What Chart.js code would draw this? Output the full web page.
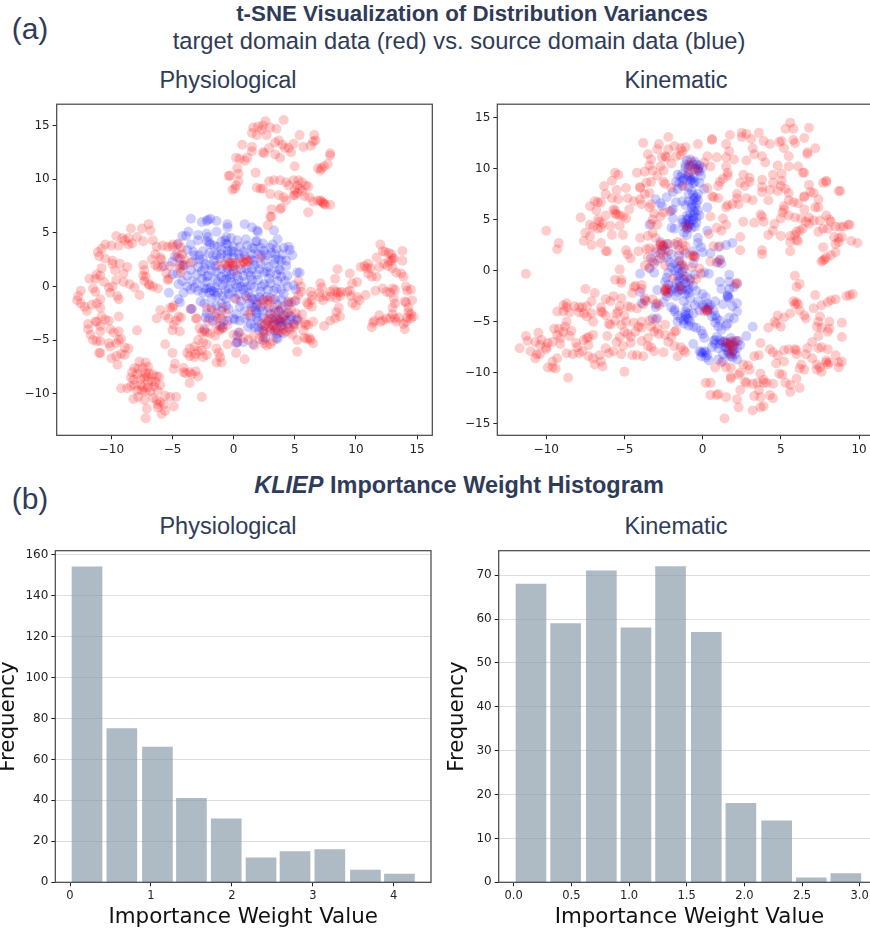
<!DOCTYPE html>
<html>
<head>
<meta charset="utf-8">
<title>t-SNE and KLIEP</title>
<script src="https://cdn.jsdelivr.net/npm/chart.js@4"></script>
<style>
html, body { margin: 0; padding: 0; background: #fff; overflow: hidden; width: 870px; height: 933px; }
.txt { position: absolute; font-family: "Liberation Sans", sans-serif; color: #2f3b58; white-space: nowrap; line-height: 1; transform: translate(-50%, -50%); }
.box { position: absolute; }
</style>
</head>
<body>
<div class="txt" style="left:30px;top:29px;font-size:30px">(a)</div>
<div class="txt" style="left:472px;top:14px;font-size:22.3px;font-weight:bold">t-SNE Visualization of Distribution Variances</div>
<div class="txt" style="left:459px;top:41.5px;font-size:23.7px">target domain data (red) vs. source domain data (blue)</div>
<div class="txt" style="left:228px;top:81px;font-size:23.5px">Physiological</div>
<div class="txt" style="left:676px;top:81px;font-size:23.5px">Kinematic</div>
<div class="txt" style="left:30px;top:499px;font-size:30px">(b)</div>
<div class="txt" style="left:459px;top:486px;font-size:23.5px;font-weight:bold"><i>KLIEP</i> Importance Weight Histogram</div>
<div class="txt" style="left:228px;top:527px;font-size:23.5px">Physiological</div>
<div class="txt" style="left:676px;top:527px;font-size:23.5px">Kinematic</div>

<div class="box" style="left:0;top:94px;width:440px;height:370px"><canvas id="tsnePhys"></canvas></div>
<div class="box" style="left:440px;top:94px;width:450px;height:370px"><canvas id="tsneKin"></canvas></div>
<div class="box" style="left:-8px;top:540px;width:448px;height:393px"><canvas id="histPhys"></canvas></div>
<div class="box" style="left:440px;top:540px;width:450px;height:393px"><canvas id="histKin"></canvas></div>

<script>
var physTarget = [
[2.6,15.4],[4.1,15.5],[2.4,15],[2,14.9],[1.6,14.8],[1.5,14.3],[2.3,14.6],[3,14.8],[3.5,14.7],[2.7,14.1],[1.9,14.1],[0.7,13.2],[1.5,13],[1.5,12.6],[2.4,12.5],[2.9,12.9],[3.4,13.4],[3.7,13.6],[4,13.2],[4.2,12.9],[4.5,12.9],[4.9,13.3],[5.4,14.1],[5.7,13],[6.3,13.1],[6.5,13.5],[6.6,14.1],[6.7,13.6],[4.7,12.5],[3.4,12.3],[3.8,12],[2.5,12.4],[1.1,12],[0.9,11.7],[0.5,11.9],[0.2,12],[0.3,11],[0.4,10.5],[-0.4,10.3],[-0.3,10.3],[0.4,9.8],[0.2,9.4],[-0.1,9],[0.1,9.1],[1.8,10.6],[5,11.2],[7.9,12.4],[7.9,12.2],[7.7,11.4],[7.4,11.2],[7.2,11],[7.1,10.8],[6.9,11],[1.9,9.2],[2.2,9.1],[2.4,9.1],[2.9,9.8],[3.3,9.9],[3.8,9.9],[4.3,9.7],[4.5,9.4],[4.9,9.9],[5.3,9.9],[5.6,9.7],[5.9,9.4],[6.1,9.3],[5.2,9.4],[5.4,9.1],[5.2,8.7],[4.9,8.5],[5.6,8.9],[5,9],[6.5,7.9],
[6.2,8.3],[6.9,8],[7.1,8],[7.2,7.9],[7.4,7.7],[7.5,7.6],[7.3,7.8],[7.9,7.6],[5.8,8.4],[6.1,6.9],[3.1,7.2],[3.9,7.3],[3.8,7.2],[3,8.6],[3.7,8.5],[4.1,8.3],[4.3,8],[5,8.5],[3,6.5],[3.1,6.5],[2.8,5.7],
[-8.4,5.4],[-7.5,5.4],[-6.95,5.8],[-6.8,5.2],[-9.6,4.7],[-9.1,4.5],[-8.9,4.3],[-8.6,4.5],[-7.9,4.6],[-8.3,4],[-8.6,3.9],[-7.4,4.2],[-6.6,4.3],[-6.3,3.7],[-9.4,3.8],[-10,3.8],[-10.5,3.9],[-10.8,3.5],[-11.1,3.2],[-11,2.8],[-10.5,2.6],[-9.9,2.4],[-9.9,2.1],[-9.3,2.1],[-9.7,1.5],[-9,1.2],[-8.7,1.8],[-10.8,1.7],[-11.2,1.1],[-11.8,0.7],[-11.3,0.7],[-10.9,1],[-10.6,0.4],[-10.2,-0.1],[-10.1,-0.6],[-9.9,0],[-9.6,0.6],[-9,0.4],[-8.5,0.2],[-8.1,-0.1],[-7.7,-0.8],[-11.5,-0.2],[-11.3,-0.5],[-12.5,-0.4],[-12.7,-0.9],[-12.8,-1.3],[-12.5,-1.6],[-12.2,-1.9],[-12,-2.3],[-11.6,-1.7],[-11.2,-1.6],[-10.9,-1.2],[-10.9,-2],[-9.4,-1.2],[-9.5,-0.9],
[-11.2,-3.3],[-11.3,-3.3],[-11.9,-3.5],[-11.9,-4],[-10.8,-2.8],[-10.5,-3.1],[-10.2,-3.2],[-9.4,-2.8],[-10.9,-3.7],[-10.9,-4.2],[-10.1,-4],[-9.8,-4.3],[-9.4,-4.2],[-11.7,-4.5],[-11.5,-5],[-11.2,-5.1],[-10.9,-5.1],[-10.2,-5.3],[-10.1,-5.6],[-9.4,-5],[-9.2,-4.9],[-9.6,-5.3],[-8.9,-5.7],[-8.6,-5.8],[-11,-6.2],[-9.2,-6.3],[-8.9,-6.4],[-10.9,-6.2],[-10,-6.7],[-9.6,-6.5],[-9.5,-7.3],[-7.9,-4.1],
[-7.7,-7],[-7.2,-7.1],[-7,-7.5],[-7.4,-7.6],[-7.8,-7.7],[-8.1,-7.6],[-8.3,-8],[-7.9,-8.2],[-7.2,-8.1],[-6.9,-8.1],[-7.1,-8.4],[-7.3,-8.5],[-6.6,-8.2],[-8.4,-8.5],[-8.2,-8.7],[-7.6,-8.6],[-7,-8.9],[-6.7,-8.9],[-6.3,-8.4],[-6.1,-8.4],[-6.4,-8.9],[-8.1,-9.2],[-7.6,-9.2],[-7.4,-9.4],[-7,-9.4],[-6.5,-9.3],[-6,-9.2],[-7.9,-9.7],[-7.5,-9.7],[-7.2,-9.8],[-6.8,-9.8],[-6.2,-9.7],[-9.2,-9.5],[-8.7,-9.5],[-8.4,-9.3],[-8.2,-10.5],[-7.8,-10.3],[-7.3,-10.6],[-6.6,-10.4],[-6.3,-10.6],[-6,-10.8],[-6.2,-11],[-5.7,-11],[-5.6,-10.2],[-5.2,-10.3],[-4.7,-10.3],[-4.9,-11.2],[-5.6,-11.6],[-5.9,-11.9],[-6.2,-11.3],[-7.1,-11.4],[-7.2,-12.3],[-2.6,-10.3],
[-7.4,2],[-7.3,1.5],[-7.4,1],[-7.2,0.9],[-7.3,0.5],[-6.7,2.5],[-6.4,2],[-6.2,1.8],[-6,2.7],[-5.9,2.5],[-6.4,3],[-6.9,0.2],[-6.6,0],[-6.2,-0.2],[-6.9,0.1],[-5.5,1.2],[-5.3,0.7],[-5.4,0.6],[-5.9,1.8],[-5.2,1.9],[-5.8,3.8],[-5.4,3.7],[-5,3.9],[-5,3.7],[-4.5,4],[-4.3,3.6],[-4.2,3],[-4.6,3.1],[-4.6,2.7],[-4,2.5],[-4.4,2],[-4.4,1.7],[-4.3,1.3],[-4,2],[-3.5,2.2],
[-5.2,-2],[-4.9,-1.8],[-5,-2],[-6,-2.2],[-6.3,-3],[-5.6,-2.7],[-5.3,-3],[-4.9,-3.6],[-4.5,-2.8],[-4.3,-2.9],[-4.7,-3.2],[-4.4,-4.2],[-5,-4.1],[-5.6,-5.4],[-5,-6.2],[-3.5,-2.1],[-3.1,-3],[-3,-3],[-2.2,-2],[-1.8,-2.2],[-1.4,-2.5],[-1.3,-3],[-1,-3],[-0.9,-2],[-0.6,-2.5],[-2.1,-3.3],[-1.4,-3.7],[-1,-4],[-0.9,-3.9],[-0.5,-3.6],
[-2.8,-3.9],[-2.6,-4.3],[-2.4,-4.2],[-2.2,-4.3],[-1.9,-4.4],[-1.5,-4.6],[-1.2,-4.1],[-2.9,-5],[-2.5,-5.2],[-2.2,-5.4],[-3.2,-5.6],[-3.6,-5.8],[-3.8,-6.2],[-3.6,-6.5],[-3.1,-6.3],[-2.9,-6],[-2.6,-6],[-2.5,-6.6],[-2.2,-6.4],[-3.2,-6.6],[-1.4,-5.8],[-1.2,-6.2],[-1.1,-6.6],[-1.4,-7.1],[-1,-7.1],[-4.1,-7.6],[-3.9,-8.1],[-3.6,-8],[-3.4,-8.2],[-3.1,-7.9],[-2.9,-8.4],[-3.6,-9],[-4.9,-7.7],[-4.8,-7.2],[-4.1,-8],
[-1.2,2],[-0.7,2.1],[-0.4,2.1],[-0.3,2.2],[-0.1,2.2],[-0.5,1.9],[-0.1,1.9],[0.2,2.2],[0.8,2.3],[1,2.5],[1.1,2.3],[1.2,2.4],[0.9,2.2],[0.6,2.1],[2.2,2.7],[0.2,1.5],
[0,-4.5],[0.5,-4.3],[0.8,-4.8],[0.3,-5.2],[-0.5,-5.4],[0.2,-6.2],[0.9,-6.8],[1.2,-5],[1.6,-4.6],[1.7,-5.5],[2.1,-4.9],[2.4,-4.7],[2.5,-5.3],[2.7,-5.5],[3,-5.4],[3.2,-5.1],[3.9,-4.3],[3.6,-3],[3.4,-2.9],[2.9,-3],[2.7,-3.1],[2.6,-3.5],[2.8,-3.8],[3,-4],[3.3,-3.6],[3.5,-3.9],[3.8,-3.4],[4,-3],[4.2,-2.8],[4.4,-3.5],[4.6,-4],[4.9,-3.8],[5,-3.6],[2.5,-4.2],[2.4,-4.4],[2.3,-3.5],[3.1,-3.5],[3.3,-4.2],[3.7,-4.1],[4.1,-4],[4.3,-4.2],[4.5,-2.5],[4.7,-2.2],[5.1,-2.5],[5.3,-3.2],[5.6,-2.6],[5.8,-3.4],[5.7,-4.1],[5.9,-3.6],[6.1,-3.6],[6.5,-3.3],[5.8,-4.8],[6,-4.9],[6.3,-5],[6.5,-5.3],[6.2,-4.8],[5.2,-5],[5.2,-6.1],[4.8,-4.5],[2,-1.5],[2.5,-1.2],[2.8,-1.3],[3.2,-1.2],[2.4,-1.8],[2.8,-1.6],[3.3,-2],[1.2,-2.7],[1.4,-2.3],[0.2,-1.2],[1.1,-1.1],[3,-2.6],[3.7,-2.3],[4,-1.9],[4.5,-1.4],[4.7,-1.5],[5.1,-1.3],[5.3,-0.8],
[5.3,0.5],[5.5,0],[5.5,-0.5],[6.3,-0.5],[6.4,-0.9],[6,-1.5],[6.1,-1.7],[6.4,-1.9],[6.4,-1.3],[7.1,0.3],[7.2,-0.1],[7,-0.6],[7.1,-1],[7.3,-1.3],[7.6,-0.9],[7.9,-1],[7.9,-0.5],[8.2,-0.3],[8.4,-0.5],[8.6,-0.6],[8.8,-0.5],[8.7,-0.9],[8.4,-1.1],[8.6,-2],[8.4,-2.4],[8.7,-2.8],[8.3,-3],[7.9,-3.2],[7.4,-3.7],[8.5,1.6],[8.3,0.7],[9.3,-0.5],[9.5,-0.4],[9.6,-0.9],[9.7,-1.6],[10,-1.8],[10.1,-1],[10.3,-1.3],[10.8,-0.8],[9.5,1.2],[9.7,0.3],[10.1,0.4],[10.4,1.8],[10.7,1.9],[11,2.1],[11.2,1.7],[11,1.2],[11.3,0.9],[10.9,1.7],[11.7,2.7],[11.9,1.8],[11.7,0.9],[11.6,-0.4],[12,3.9],[12.2,3.3],[12.4,3.2],[12.7,3.1],[12.9,3],[13,2.6],[12.9,2.4],[12.7,2.3],[13.1,2.6],[13.8,3.3],[13.8,2.4],[12.3,2.1],[12.6,1.9],[13,1.7],[13.3,1.3],[13.7,1.2],[13.9,0.9],[14.1,0],[14.5,-0.3],[14.2,-0.4],[13.2,-0.3],[13,-0.2],[12.5,-0.5],[12.2,-0.2],[12.8,-0.6],[13.1,-1.1],[13.2,-1.6],[13,-2],[13,-2.6],[12.8,-3],[13.2,-3],[12.5,-3],[12.2,-3.2],[13.5,-2.9],[14,-1.4],[14.1,-1.5],[14.3,-2],[14.6,-1.3],[14.3,-2.4],[14.5,-2.6],[14.2,-2.9],[14.5,-3],[14.7,-2.8],[14.1,-3.3],[13.9,-3.5],[14,-4],[13.3,-3.3],[11.9,-2.7],[11.5,-3.2],[11.4,-3.4],[11.3,-3.8],[12,-3.3]
];
var physSource = [
[-3.5,6.3],[-2.6,6],[-2.1,6.2],[-1.9,6.3],[-2.2,6.1],[-1.4,6.1],[-0.5,5.8],[-0.5,5.5],[0.9,5.8],[1.5,5.5],[1.9,5.2],[2,5.1],[3.3,5.2],[-3.7,5.1],[-4.2,4.7],[-3.9,4.7],[-2.9,4.8],[-2.2,4.9],[-2.1,4.6],[-1.4,5.1],[-0.6,4.6],[-0.2,4.5],[0.3,4.3],[1,4.4],[1.8,4.2],[1.9,4.2],[3.6,4.4],[2.4,4],
[-4.6,3.9],[-3.5,3.9],[-2.9,4.3],[-2.2,4.2],[-1.9,3.9],[-1.6,3.8],[-1.3,3.7],[-0.6,4],[-0.5,3.9],[0,3.7],[0.5,3.7],[1.1,3.8],[1.7,3.5],[2.2,3.6],[3.2,3.9],[3.5,3.5],[4.1,3.6],[4.5,3.7],[4.6,3.4],
[-4.8,2.8],[-4.4,2.6],[-3.8,3.4],[-3.3,3.2],[-2.8,2.9],[-2.5,3.3],[-2,3.1],[-1.4,2.9],[-1,3],[-0.5,3],[-0.2,3.3],[0.4,3],[0.8,3.2],[1.5,3],[2,3],[2.7,2.9],[3.1,3.1],[3.4,3],[4,3],[4.8,2.9],
[-5,2.3],[-4.2,2],[-4.1,1.9],[-3.3,2.3],[-2.8,2.5],[-2.3,2.1],[-1.9,2],[-1.6,2.4],[-1.1,2.6],[-0.5,2.6],[0,2.7],[0.5,2.6],[1.4,2.5],[1.7,2],[2.2,2.1],[2.6,2.4],[3.3,2.1],[3.7,2.5],[3.9,2.4],[4.3,1.9],
[-5.7,1.9],[-5,1.1],[-4.6,1.2],[-3.8,1],[-3.5,1.5],[-3,1.1],[-2.6,1.4],[-2.1,1],[-1.8,1.5],[-1.4,1.3],[-1,0.9],[-0.6,0.7],[-0.3,0.8],[0,1.4],[0.6,1.6],[1.2,1.3],[1.4,1],[1.9,1.1],[2.5,1.3],[2.7,1.4],[3,1.2],[3.7,1.6],[3.8,1.5],[4.4,1],[5.2,1.3],[5.4,1.3],
[-4.5,0.2],[-4.2,0.5],[-3.4,0.5],[-3,0.3],[-2.6,0.7],[-2.2,0.4],[-1.9,-0.1],[-1.3,0.4],[-0.8,0.6],[-0.2,0.4],[0.4,0.6],[0.9,0.4],[1.5,0.6],[2,0.6],[2.5,0.2],[3,0.3],[3.6,0.5],[4.2,0.5],[4.9,0.1],
[-5.3,-0.6],[-4.1,-0.6],[-3.5,-0.3],[-2.9,-0.4],[-2.4,-0.2],[-2.2,-0.2],[-1.6,-0.5],[-1.3,-0.6],[-0.7,-0.3],[-0.1,-0.5],[0.3,-0.1],[0.8,-0.3],[1.2,-0.6],[1.7,-0.1],[2.2,-0.5],[2.8,-0.3],[3.3,-0.4],[3.9,-0.3],[4.1,-0.7],[5.1,-0.3],
[-4.5,-1.2],[-4.4,-1.5],[-2.7,-1.4],[-2.4,-1.6],[-1.8,-1.1],[-1.4,-0.9],[-1,-1.6],[-0.6,-1.2],[0.1,-1.1],[0.6,-1.4],[1,-0.9],[1.6,-1.2],[1.9,-1.7],[2.4,-1.3],[2.7,-1],[3.4,-1.2],[3.6,-1.7],[4.4,-1.5],[4.5,-1.7],[5,-1.4],
[-3.5,-2.1],[-3.4,-2.1],[-2.2,-2.5],[-1.8,-2],[-1,-2.3],[-0.4,-2.1],[0.2,-2.6],[0.9,-2.3],[1.5,-1.9],[1.7,-2],[1.9,-2.5],[2.4,-2.3],[3,-2.5],[3.7,-2.3],[4.4,-2.5],[4.7,-2.8],
[-2.3,-2.9],[-2,-3],[-1.7,-3.2],[-0.5,-3.2],[0,-3],[0.1,-3.1],[0.9,-3],[1.4,-3.5],[2,-3.2],[2.8,-3.3],[3.1,-3],[3.5,-3.1],[3.7,-3.2],[3.9,-3.3],[4.6,-3.1],[5.1,-3.1],[5.2,-3],
[-2.4,-4],[-1.1,-3.7],[-0.9,-3.8],[0.4,-4.3],[1.2,-3.8],[1.7,-3.8],[2.1,-4.1],[2.4,-4.1],[3,-4.2],[3.6,-4.4],[3.9,-3.7],[4.5,-3.8],[0.3,-4.6],[0.2,-5.3],[0.3,-5.2],[0.8,-5.2],[1.6,-5.4],[2.6,-4.8],[2.4,-5],[3.6,-4.9],[3.5,-4.8],
[-2.9,1.8],[-2.4,1.7],[-1.5,1.9],[-1,1.6],[-0.6,1.3],[-0.2,1.1],[0.3,1],[0.8,1],[1,1.7],[1.5,1.6],[2.1,1.6],[2.9,1.8],[3.5,1.1],[3.9,0.9],[-3.8,0],[-3.2,-0.1],[-2.5,-0.6],[-2,-0.6],[-1.8,-0.4],[-1.5,-0.1],[-0.9,0.1],[-0.4,-0.2],[0.2,0.2],[0.6,0],[1,-0.1],[1.4,0.1],[2.3,0],[2.9,0.7],[3.5,-0.2],[4.4,0],[-2.2,0.9],[-1.5,0.7],[-0.9,-0.9],[-0.4,-0.7],[0.4,-0.7],[1.4,-1],[1.8,-1.2],[2.1,-1],[3,-1.1],[3.9,-1.2],[-1.4,-1.8],[-0.6,-1.8],[0.5,-1.9],[1.3,-1.6],[1.8,-2.3],[2.2,-2],[2.9,-2],[3.4,-2.4],[3.9,-2.1],[4.1,-2.7],[-1.5,-2.8],[-0.8,-3.2],[0.5,-3.2],[1.4,-2.9],[1.9,-2.9],[2.4,-2.9],[3.3,-3.3],[3.8,-3.1],[4,-3.6],[4.3,-3.2],[4.9,-3.5],[2,-3.8],[2.5,-3.7],[3.2,-3.7],[3.4,-4.1],[4.1,-4.4],[-2,4.1],[-1,4.2],[-0.7,4.3],[-1,3.4],[-0.5,3.3],[0,3.2],[0.9,2.9],[1.5,3.6],[2.5,3.3],[3,3.6],[-3.2,2.9],[-2.5,2.5],[-1.7,2.9],[-0.5,1.7],[0,1.9],[1.6,2.4],[2.3,2.9],[3.4,2.5],[4.3,2.4]
];
var kinTarget = [
[-3.8,12.5],[-2.2,13.1],[-2.8,12.4],[-2.9,11.9],[-3.5,11.4],[-3.3,10.9],[-3.4,10.3],[-4.2,9.6],[-3.7,9.7],[-3.2,9.8],[-2.7,10.2],[-2.4,11.2],[-2.3,11.1],[-2.6,11.1],[-2.2,11.9],[-1.8,12.2],[-1.4,12],[-1.3,11.7],[-1.1,12.1],[-0.3,12.4],[0.6,12.9],[0.6,12.8],[-1.7,11.2],[-2,10.5],[-2.5,9.8],[-2.9,9.3],[-3.3,8.7],[-3.6,8.6],[-2.5,8.7],[-2.4,8.5],[-2,8.1],[-4,8.2],[-4,8.1],[-3.4,7.6],[-3.7,7.5],[-1.4,11.3],[-0.7,10.7],[0.3,11.2],[0.9,11.1],[0.1,10.6],[0.5,10.2],
[1.75,13.3],[2.5,13.5],[2.8,13.4],[2.5,13.1],[3.6,13.5],[3.1,12.9],[3.9,12.7],[4.3,12.4],[4.9,12.6],[5.05,12.7],[5.6,14.5],[5.3,13.9],[5.8,13.9],[6.8,14],[6.5,13],[5.8,12.8],[5.9,12.5],[7.2,12],[6.7,11.6],[6.7,11.4],[5.5,11.2],[5.2,12],[3.8,11.2],[3.3,11.4],[3.2,12],[1.5,12.4],[1.7,11.7],[2,10.9],[1.5,11.1],[2.8,10.8],[4,10.6],[4.8,10.3],[5.5,10.2],[6.1,10.2],[6.4,9.6],[6.5,9.6],[4.5,9.4],[5.05,9.5],[2.6,9.4],[3,9.1],[3.8,8.9],[4.5,8.6],[5.05,8.8],[5.3,8],[5,8.3],[6.8,8.4],[7.7,8.6],[7.9,8.8],[7.9,8.7],[7.1,7.6],[6.9,7.7],[6.5,7.3],[8.8,7.8],[8.7,7.8],
[1.5,10.2],[1.6,9.6],[1.6,9.3],[1.3,9],[1.1,8.7],[1,8.3],[2.4,8.6],[2.7,8.3],[3,8.7],[3.8,8.2],[3.8,7.7],[4.3,7.9],[4.8,7.8],[5.5,7.6],[4.2,6.9],[3.2,6.9],[2.8,7.1],[2.2,7.5],[2.2,7.1],[1.9,6.5],[1.6,6.4],[1.5,6.2],[1,7.1],[0.7,7.2],[0.3,8.1],[0.6,7.3],[2.3,6.5],[5.5,6.9],[5.8,6.7],[6.1,6.6],[6.5,7.2],[6.5,6],[7.2,6.2],[7.4,6.2],[7.4,7],[5.2,6.3],[5.2,6],[5.1,5.7],[5,5.1],[5.5,5.4],[5.9,5.2],[6.3,5.1],[6.8,5.2],[7.1,4.9],[6.8,4.6],[6.6,4.8],[7.5,4.9],[7.9,5.4],[8.1,5],[8.2,4.8],[8,4.1],[8.5,4.3],[8.8,4.3],[9,4.3],[9.3,4.5],[9.4,4.5],[7.7,4.1],[7.4,3.8],[8.4,3.3],[8.7,3.2],[8.9,3.3],[8.7,2.8],[8.5,2.6],[9.5,2.9],[9.9,2.7],[7.7,2.3],[8.5,1.8],[8.2,1.5],[7.9,1.3],[7.8,1.1],[7.6,0.9],[7.7,1],[5.6,3.4],[5.9,3.5],[6,3.8],[6.2,3.9],[6.4,4.1],[5.6,2.8],[6,3],[6.1,2.9],[5.6,1.9],[5,3.4],[3.7,5.5],[3.8,5.3],[3.3,4.7],[3.9,4.8],[4.6,4.6],[4.5,3.9],[4.2,3.5],[2.6,4.8],[2.4,3.3],[2.4,2],[3.8,2],[3.8,1.6],[1.5,4.5],[1.2,3.9],[0.9,4.2],[1.3,5.1],[0.5,5.3],[0.4,3.6],
[-5.6,9.6],[-5.4,9.4],[-5.8,8.8],[-6.3,8.3],[-4.9,8.1],[-5.5,7.9],[-6.2,7.5],[-5.8,7.1],[-5.4,7],[-4.8,7.1],[-4.4,6.8],[-6.9,6.8],[-6.7,6.7],[-6.5,6.7],[-7.2,6.3],[-6.8,5.9],[-6.2,5.4],[-5.7,6],[-5.6,5.9],[-5.6,5.6],[-5.3,5.4],[-5.5,5.5],[-5.1,5.3],[-4.7,6],[-4.9,5.1],[-7.8,5.2],[-6.7,5],[-6.6,4.8],[-6.4,4.6],[-7.2,4.5],[-7,4.3],[-6.5,4.2],[-6.7,4.1],[-7.5,3.7],[-7.2,3.4],[-7.6,2.9],[-7.1,2.5],[-6.5,2.7],[-6.2,1.9],[-6.1,1.9],[-5.8,3.5],[-5.1,3.5],[-5.3,4.4],[-5.9,4.4],[-10,3.9],[-9.2,2.7],[-9.3,2.1],[-11.3,-0.3],
[-4,7],[-3.9,6.5],[-3.4,6.2],[-3.3,6.5],[-3.1,5.6],[-2.5,5.7],[-2.7,5.3],[-2.1,5.8],[-3.2,5],[-3.3,4.6],[-2.9,4.5],[-3.2,3.7],[-3.5,3.4],[-4,3.2],[-3,3.2],[-2.7,2.6],[-2.6,2.4],[-2.5,2.5],[-4.1,1.9],[-3.6,2.1],[-3.4,2.2],[-3,2.1],[-2.7,1.7],[-2.5,1.5],[-2.2,1.9],[-4.9,2],[-4.8,1.6],[-4.6,1.2],[-3.5,1.3],[-3.2,0.9],[-2.9,1],[-1.8,2.6],[-1.6,2.8],[-1.3,2.7],[-1.1,2.4],[-1.5,2],[-0.8,1.5],[-0.6,1.5],[-0.5,1.3],[-1.5,1],[-1.3,0.6],[-1.2,0.4],[-0.7,0.3],[-0.2,0.2],[0.5,0.9],[1.1,1],[1,0.8],[0.7,2.4],[1.1,2.4],[-3.7,0.5],[-3.4,0.3],[-2.4,0.5],[-5.3,0.1],[-5.6,-0.9],[-5.2,-0.9],[-5.2,-1.2],[-4.3,-1.5],[-4.4,-1.6],[-3.9,-1.4],[-3.9,-1.8],[-1.9,-0.8],[-2.3,-1.7],[-2.4,-2],[-2.3,-2.2],[-1.4,-1.8],[-0.8,-1],[-0.4,-0.8],[-0.1,-0.3],[2.2,-1.2],[2.1,-1.3],
[-4.5,-2.2],[-3.7,-2.7],[-3.6,-3],[-3.8,-3.3],[-2.9,-3.2],[-2.8,-3.4],[-3.2,-2.8],[-4.2,-3.7],[-5.2,-2.7],[-5.7,-2.5],[-5.9,-3],[-6.2,-2.8],[-5.3,-3.5],[-5.4,-4],[-5.5,-4.2],[-4.8,-3.5],[-4.6,-3.6],[-6.5,-3.6],[-6.5,-4],[-6.4,-4.1],[-6.2,-4.4],[-7.5,-1.8],[-6.9,-2.2],[-7.1,-3],[-7.4,-3.5],[-7.7,-3.6],[-7.9,-3.6],[-8.2,-3.5],[-8.7,-3.2],[-8.7,-3.6],[-8.9,-3.4],[-8.9,-4],[-9.3,-4],[-8.5,-4.1],[-7.9,-4.1],[-7.6,-4.2],[-7.4,-4.5],[-7.1,-4.2],[-7,-5],[-6,-5.2],[-5.9,-5.3],[-5.6,-4.9],[-5,-4.4],[-5.2,-5.3],[-4.9,-5],[-4.4,-5.1],[-3.9,-5],[-3.9,-5.6],[-3.4,-4.9],[-3,-4.8],[-3.3,-5.5],[-2.9,-5.7],[-3.1,-6],[-2.4,-5.3],
[-11.7,-7.6],[-11.2,-6.9],[-11.3,-6.4],[-11,-7.9],[-10.7,-7],[-10.6,-8.2],[-10.4,-8.2],[-10.7,-8.6],[-10.5,-6.1],[-10.3,-6.8],[-10.4,-7.3],[-10,-7.5],[-9.9,-7.1],[-9.6,-7],[-10,-7.7],[-9.9,-9.5],[-9.6,-9.5],[-9.6,-8.9],[-9.3,-8.6],[-9.4,-9.6],[-9.5,-5.7],[-9.2,-5.7],[-9.3,-6.3],[-9.1,-6.6],[-9.1,-7.2],[-8.8,-5.5],[-8.9,-6],[-8.4,-5.9],[-8.7,-5],[-8.5,-6.4],[-8.1,-7.1],[-8,-7.5],[-8.7,-8.1],[-8.3,-8.2],[-7.9,-8.1],[-7.7,-7.9],[-7.6,-6.8],[-7.4,-6.6],[-7.3,-6.5],[-7.3,-7.3],[-7,-6.3],[-7.3,-8.4],[-7,-8.6],[-6.9,-9.2],[-6.6,-8.3],[-6.4,-9.4],[-6.2,-7.6],[-6.1,-6.4],[-6,-8.1],[-5.7,-7.9],[-5.5,-7],[-5.3,-6.5],[-5.2,-8.2],[-5,-6],[-5.1,-7.4],[-4.8,-6.2],[-4.6,-6.5],[-4.6,-7.1],[-4.5,-8.3],[-4.2,-8.3],[-4.3,-6],[-4.1,-5.5],[-3.9,-6.9],[-3.8,-8.4],[-3.5,-6.6],[-3.5,-7.4],[-3.3,-7.5],[-3.1,-7.9],[-2.8,-6.2],[-2.5,-8],[-2.4,-6.3],[-2.2,-7],[-2,-6.5],[-1.8,-6],[-1.8,-7.4],[-1.7,-5.9],[-1.6,-8.4],[-1.4,-7.5],[-1.2,-7.8],[-1.1,-8],[-8.6,-10.5],[-5,-9.9],[-6.5,-8.9],
[0.2,-11],[0.5,-11],[0.5,-12.2],[0.9,-12.2],[1,-12.1],[1.5,-12.4],[0.8,-9.5],[1.2,-9],[1.5,-9.5],[1.8,-9.5],[1.8,-10.4],[1.8,-10.6],[2.3,-10.2],[2.4,-10],[2.6,-9.2],[2.9,-9.3],[3,-9.7],[2.7,-10.9],[2.8,-11],[2.4,-11.7],[3.2,-11.1],[3.5,-11],[3.9,-11],[4.1,-11],[4.5,-11.1],[3.7,-10.1],[3.9,-10.7],[3.3,-12.3],[3.6,-11.7],[3.7,-12.4],[4.3,-12.2],[4.5,-12.5],[2.2,-12.6],[2.3,-13.4],[3.2,-13.7],[3.7,-13.4],[3.9,-13.3],[1.4,-14.5],[3.3,-8.4],[3.6,-8.3],[3.7,-7.1],[4.3,-7.7],[4.5,-8],[4.8,-8.3],[4.7,-9.1],[4.9,-10.1],[5.1,-10.2],[5.3,-11],[5.6,-11.2],[5.6,-11.9],[6,-10.6],[6.2,-11.5],[6.2,-9.6],[6.3,-9.2],[6.5,-9.7],[6,-8.2],[5.5,-7.7],[5.2,-7.8],[5.9,-7.7],[6,-7.8],[6.7,-7.6],[6.6,-8.2],[7,-7],[7.4,-7.6],[7,-8.6],[7.3,-9.2],[7.3,-9.7],[7.5,-9.5],[7.6,-9.9],[7.9,-8.8],[7.9,-9],[8,-9.2],[8.1,-9],[8.7,-9],[8.9,-8.9],[8.7,-9.5],[8.5,-8.3],[8,-7.7],[7.6,-7.5],[7.4,-6.4],[5.2,-8.9],[5,-5.5],[4.7,-5.2],
[4.2,-5.6],[4.6,-5],[4.8,-4.4],[5.2,-4.6],[5.6,-4.2],[5.8,-3],[6,-3.1],[6.1,-3.3],[5.9,-3.3],[6.2,-3.9],[6.5,-4.4],[7.1,-3.7],[6.6,-4.7],[7.2,-2.4],[7.5,-4.5],[7.4,-5],[7.3,-5.5],[7.6,-5.6],[8.1,-5],[8.1,-5.7],[8,-6],[8.9,-5.1],[8.9,-6.5],[7.6,-3.4],[8,-3.1],[8.2,-2.9],[8.5,-2.8],[9.2,-2.5],[9.4,-2.4],[9.6,-2.3],[6,-1.6],[6.2,-1.3],[5.9,-0.5],
[1.4,-7],[1.6,-7.1],[1.9,-6.9],[2.2,-6.9],[1.8,-7.3],[1.7,-7.6],[1.9,-8],[1.8,-8.2],[2,-7.4],[-0.9,9.6],[-0.5,9.9],[-0.3,9.9],[-0.9,10.3],[-1.2,8.3],[0.2,-3.8],[0.3,-3.9],[0.4,-3.8],[0.1,-4],[-1,4.4],[-1,4.2],[-1.2,2],[-0.6,1.4],[-2.7,2.5],[-2.3,2.6],[-2.4,-1.8],[-2.3,-1.9],[-1.2,-0.5],[-1.5,-1.6]
];
var kinSource = [
[-1,10.8],[-0.8,10.9],[-0.5,10.7],[-0.2,10.3],[0,10.1],[-1.1,10.4],[-0.8,10.3],[-0.5,10],[-0.3,9.8],[-0.2,9.7],[-0.1,9.3],[-1.6,9.4],[-1.4,9.2],[-1.2,9],[-0.9,9.4],[-0.8,8.8],[-0.7,8.9],[-0.6,9.1],[-1.7,8.7],[-1.5,8.6],[-1.6,8],[-1.3,8.3],[-0.9,8.2],[-0.2,8.6],[0.1,8],[-1.9,7.7],[-0.9,7.5],[-0.6,7.4],[-0.4,7.2],[-0.3,7.5],[-3,7],[-2.7,6.6],[-2.3,7.2],[-1.7,6.7],[-1.3,6.8],[-1.1,6.4],[-0.9,6.8],[-0.7,6.5],[-0.4,6.6],[-0.3,6.9],[-0.5,6.2],[0.3,6.2],[-2.6,6.3],[-2,5.9],[-1.9,6],[-0.5,5.7],[-0.6,5.3],[-0.4,5.2],[-0.2,5.4],[-1.9,5.1],[-1.3,5],[-1,5],[-0.7,4.9],[-0.4,4.7],[-0.9,4.6],[-1.3,4.7],[-0.9,4.3],[-1,4.1],[-0.7,4.2],[-0.5,4.3],[-2,4.2],[-1.8,4.1],[-1.2,3.7],[-1,3.5],[-0.3,3.2],[0.3,3.9],[-3.4,4.5],[-0.3,2.7],[-0.1,2.3],[1.9,2.7],[1.5,2.5],[1,2.3],[-2.7,2.8],[-2.5,2.4],[-2.2,2.6],[-1.6,2.5],[-3,1.8],[-2.6,2],[-2.3,1.3],[-2,1.6],[-1.5,1.5],[-1.1,1.7],[-0.6,1.9],[-0.5,1.4],[0,1.8],[0.5,1.7],[1.1,1.1],[1.2,0.7],[0.9,0.8],[-3.3,1.2],[-3.1,0.7],[-2.1,0.8],[-1.8,0.7],[-1.5,0.9],[-1.4,0.5],[-1.2,0.2],[-0.6,0.7],[-3.4,0.2],
[-4,-0.3],[-3.1,-0.2],[-2.3,-0.7],[-2.2,-0.2],[-1.8,0],[-1.6,-0.5],[-1.3,-0.1],[-1,-0.6],[-0.8,-0.8],[-0.5,-0.4],[0.1,-0.2],[0.4,-0.3],[1.7,-0.4],[-2.4,-1.1],[-1.7,-1.2],[-1.5,-1],[-1.4,-1.5],[-1.1,-1.2],[-0.9,-1.3],[-0.6,-1.5],[1.1,-1.1],[1.7,-1.1],[2.2,-1.3],[2,-1.6],[1.7,-1.8],
[-2.9,-1.9],[-2.4,-2],[-2.2,-2.2],[-2,-2],[-1.5,-1.9],[-0.9,-1.8],[-0.4,-2],[-4,-2.1],[1.2,-1.8],[-3.7,-2.9],[-2.3,-2.5],[-1.7,-2.5],[-1.1,-2.3],[-0.8,-2.7],[0,-2.3],[0.2,-2.6],[1.6,-2.5],[1.7,-2.7],[-3.9,-3.2],[-3,-3.3],[-2.5,-3.1],[-1.2,-3],[-0.3,-3],[0.3,-3.2],[0.8,-3],[1.3,-3.3],[2.2,-3.2],[-3,-3.6],[-2,-3.6],[-1.8,-3.8],[-1,-3.6],[-0.5,-3.4],[0,-3.4],[0.4,-3.6],[1.9,-3.5],[-1.8,-4],[-1.1,-4],[-0.2,-3.9],[0.3,-4],[0.7,-3.9],[2.2,-4],[-3.2,-4.7],[-2.9,-4.7],[-1.6,-4.4],[-1.1,-4.5],[-1,-4.7],[-0.9,-4.8],[-0.6,-4.2],[0.6,-4.5],[0.9,-4.7],[1.7,-4.6],[2,-4.7],[-1.6,-5],[-1.2,-5.2],[-0.9,-5.4],[-0.4,-5.6],[0.8,-5.1],[1,-5.5],[1.6,-5.2],[1.5,-5.4],[3.2,-5.5],[-0.6,-5.5],[-0.1,-5.9],[0,-6.2],[1.2,-5.8],[0.1,-6.6],[0.9,-6.5],[0.8,-6.8],[2.8,-6.4],[0.8,-7.2],[1.1,-6.8],[1.4,-6.9],[1.8,-6.6],[2.3,-6.9],[2.4,-7.3],[-0.6,-7.2],[0.6,-7.5],[1,-7.6],[1.5,-7.5],[1.7,-7.2],[2,-7.1],[2.2,-7.6],[-0.2,-7.9],[0,-8.1],[-0.1,-8.4],[0.2,-8.5],[1.3,-8.2],[1.6,-8],[1.9,-7.9],[2.1,-8.2],[0.4,-8.8],[1,-8.7],[1.3,-8.9],[1.9,-8.5],[2.2,-8.7],
[-1.1,10.1],[-0.9,10],[-0.6,10.4],[-0.4,10.4],[-0.3,10],[-1.3,9.5],[-1,9.2],[-0.8,9.1],[-0.6,8.6],[-0.5,8.7],[-1.3,8.8],[-0.7,7.8],[-0.5,7.1],[-0.6,6.9],[-0.7,6.2],[-0.6,5.9],[-0.3,5.9],[-0.8,5.6],[-1,5.4],[-0.9,5.1],[-0.6,5],[-1.2,4.3],[-1.1,4.6],[-0.8,4.5],[-2.7,1.2],[-2.4,2.1],[-2,0.3],[-1.6,0.2],[-1.5,-0.3],[-1.4,-0.7],[-1.2,-0.9],[-1.5,-1.6],[-1.3,-1.9],[-2.2,-1.4],[-2.1,-1.8],[-1.8,-1.7],[-1.6,-2.1],[-1,-1.9],[-0.9,-2.2],[0.1,-3.6],[0.3,-3.8],[0.5,-3.4],[-1.4,-4.7],[-1.2,-4.9],[-1.1,-4.3],[-0.9,-4.2],[-0.8,-5],[0.8,-4.4],[1.1,-4.9],[1.3,-7],[1.5,-7.1],[1.8,-7],[1.6,-7.8],[1.4,-7.5],[1.9,-7.4],[2,-7.8],[2.1,-6.9],[1.7,-8.2],[1.8,-8.4],[1.1,-7.2],[0.7,-6.9],[0.2,-8],[0.3,-8.3],[-0.1,-8],[0.1,-7.9],[1.6,-2.6],[1.6,-2.4]
];

// histogram bins
var physBins = [0.21,0.64,1.08,1.5,1.93,2.36,2.78,3.21,3.65,4.07];
var physCounts = [154,75,66,41,31,12,15,16,6,4];
var kinBins = [0.15,0.45,0.76,1.06,1.36,1.67,1.97,2.28,2.58,2.88];
var kinCounts = [68,59,71,58,72,57,18,14,1,2];

var axisColor = "#444";
var tickColor = "#222";
var tickFont = "DejaVu Sans";

// matplotlib style box round the plot
var frame = {
    id: "frame",
    afterDatasetsDraw: function(chart) {
        var a = chart.chartArea, c = chart.ctx;
        c.save();
        c.strokeStyle = axisColor;
        c.lineWidth = 1.2;
        c.strokeRect(a.left, a.top, a.right - a.left, a.bottom - a.top);
        c.restore();
    }
};

function minusSign(v) {
    return String(v).replace("-", "\u2212");
}

function toPoints(list) {
    return list.map(function(p) { return {x: p[0], y: p[1]}; });
}

function pinned(size) {
    return function(axis) {
        if (axis.isHorizontal()) axis.height = size; else axis.width = size;
    };
}

function axisBase(min, max, step, size, fontSize, grid, label, titlePad, labels) {
    return {
        type: "linear",
        min: min,
        max: max,
        offset: false,
        afterFit: pinned(size),
        border: {display: false},
        grid: {
            offset: false,
            drawOnChartArea: grid,
            color: "#dedede",
            tickColor: "#222",
            tickLength: 4
        },
        ticks: {
            stepSize: step,
            includeBounds: false,
            maxRotation: 0,
            autoSkip: false,
            padding: 3,
            color: tickColor,
            font: {family: tickFont, size: fontSize},
            callback: labels || minusSign
        },
        title: label ? {
            display: true,
            text: label,
            color: "#111",
            padding: titlePad,
            font: {family: tickFont, size: 21.4}
        } : {display: false}
    };
}

function scatterChart(id, target, source, xr, yr, pad, ySize) {
    return new Chart(document.getElementById(id), {
        type: "scatter",
        data: {
            datasets: [
                {label: "target", data: toPoints(target), backgroundColor: "rgba(255,0,0,0.2)", pointBorderWidth: 0, borderWidth: 0, pointRadius: 5},
                {label: "source", data: toPoints(source), backgroundColor: "rgba(0,0,255,0.19)", pointBorderWidth: 0, borderWidth: 0, pointRadius: 5}
            ]
        },
        options: {
            responsive: true,
            maintainAspectRatio: false,
            animation: false,
            events: [],
            layout: {padding: pad},
            plugins: {legend: {display: false}, tooltip: {enabled: false}},
            scales: {
                x: axisBase(xr[0], xr[1], 5, 28.7, 12, false),
                y: axisBase(yr[0], yr[1], 5, ySize, 12, false)
            }
        },
        plugins: [frame]
    });
}

function histChart(id, bins, counts, xr, yr, xStep, yStep, pad, ySize, yTitlePad, xLabels) {
    return new Chart(document.getElementById(id), {
        type: "bar",
        data: {
            labels: bins,
            datasets: [{
                data: bins.map(function(b, i) { return {x: b, y: counts[i]}; }),
                backgroundColor: "rgba(130,150,164,0.65)",
                borderWidth: 0,
                barThickness: 30
            }]
        },
        options: {
            responsive: true,
            maintainAspectRatio: false,
            animation: false,
            events: [],
            layout: {padding: pad},
            plugins: {legend: {display: false}, tooltip: {enabled: false}},
            scales: {
                x: axisBase(xr[0], xr[1], xStep, 50.7, 11.5, false, "Importance Weight Value", 3, xLabels),
                y: axisBase(yr[0], yr[1], yStep, ySize, 12, true, "Frequency", yTitlePad)
            }
        },
        plugins: [frame]
    });
}

scatterChart("tsnePhys", physTarget, physSource, [-14.47, 16.25], [-13.88, 16.98], {top: 10, right: 7.7}, 56.7);
scatterChart("tsneKin", kinTarget, kinSource, [-13.13, 11.34], [-16.14, 16.31], {top: 9.3, right: 10}, 57.3);
histChart("histPhys", physBins, physCounts, [-0.182, 4.46], [0, 161.9], 1, 20, {top: 10.7, right: 9}, 63.3, 4, function(v) { return String(v); });
histChart("histKin", kinBins, kinCounts, [-0.13, 3.176], [0, 75.6], 0.5, 10, {top: 10.7, right: 10}, 58.7, 5, function(v) { return v.toFixed(1); });
</script>
</body>
</html>
